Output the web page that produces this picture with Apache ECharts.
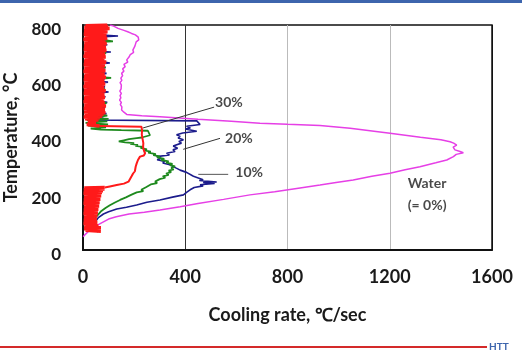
<!DOCTYPE html>
<html><head><meta charset="utf-8">
<script src="https://cdn.jsdelivr.net/npm/echarts@6/dist/echarts.min.js"></script>
<style>html,body{margin:0;padding:0;background:#fff}#c{width:522px;height:364px}</style>
</head><body><div id="c"></div>
<script>
// [cooling rate (°C/s), temperature (°C)]
const water0 = [[106,800],[120,796],[137,788],[160,781],[175,776],[190,770],[205,765],[216,757],[210,752],[218,747],[208,740],[212,733],[203,725],[207,718],[195,711],[198,703],[185,695],[180,686],[171,676],[175,668],[160,660],[165,652],[155,644],[160,636],[151,628],[155,620],[148,611],[152,603],[145,595],[150,587],[143,581],[149,573],[144,565],[150,557],[145,549],[148,541],[143,533],[150,525],[146,517],[152,509],[148,503],[151,498],[160,490],[171,482],[230,477],[301,474],[450,465],[580,458],[692,451],[800,447],[927,443],[1045,433],[1201,415],[1320,401],[1400,392],[1436,385],[1450,380],[1462,373],[1448,366],[1455,356],[1475,350],[1488,346],[1460,340],[1449,332],[1423,320],[1380,310],[1318,296],[1260,285],[1201,273],[1130,262],[1057,249],[990,240],[927,231],[836,219],[750,207],[653,196],[550,180],[450,165],[380,154],[301,142],[240,134],[180,128],[130,118],[100,110],[60,90],[20,65],[5,52],[1,47]];

const pct10 = [[60,800],[15,796],[90,790],[20,782],[80,775],[10,768],[137,761],[30,756],[85,748],[20,740],[95,730],[25,720],[80,712],[15,708],[109,704],[30,698],[85,688],[20,678],[105,665],[25,658],[88,648],[15,638],[92,628],[30,618],[84,608],[20,602],[98,597],[25,590],[86,580],[15,572],[100,562],[30,555],[88,545],[20,535],[95,525],[25,515],[86,505],[15,495],[92,485],[30,476],[80,468],[20,462],[445,459],[440,452],[458,446],[405,440],[420,434],[400,430],[445,422],[390,416],[366,410],[380,404],[372,398],[393,392],[375,386],[385,380],[353,370],[370,362],[352,356],[360,350],[327,344],[338,338],[288,332],[305,326],[290,321],[320,315],[312,309],[340,303],[335,297],[365,291],[380,284],[405,276],[398,270],[432,262],[425,256],[470,250],[455,247],[523,242],[470,240],[515,237],[458,232],[470,228],[435,222],[419,214],[405,205],[393,196],[350,188],[301,178],[250,170],[210,160],[170,152],[132,146],[100,136],[80,128],[60,115],[54,107],[40,95],[30,85],[20,78]];

const pct20 = [[70,800],[20,795],[95,785],[30,775],[85,765],[25,755],[117,742],[40,738],[80,725],[20,715],[90,700],[30,690],[78,678],[15,665],[88,650],[25,640],[82,628],[20,618],[110,612],[35,606],[80,595],[20,585],[86,572],[30,560],[78,548],[15,535],[92,522],[25,510],[84,498],[20,488],[95,478],[30,470],[100,466],[15,462],[95,457],[10,452],[98,447],[20,442],[90,436],[30,432],[70,428],[150,426],[254,424],[262,408],[230,400],[210,398],[180,394],[160,390],[140,386],[165,383],[200,380],[185,377],[215,374],[205,370],[235,367],[225,363],[250,358],[240,354],[265,350],[255,346],[285,341],[275,337],[300,333],[290,329],[318,324],[305,320],[335,315],[325,311],[350,306],[340,302],[360,297],[345,292],[355,287],[335,282],[345,277],[325,272],[335,267],[312,262],[322,257],[300,252],[305,247],[282,243],[290,238],[265,233],[272,228],[248,224],[255,219],[228,214],[236,209],[210,205],[215,200],[188,196],[195,191],[168,187],[172,182],[145,178],[150,173],[125,169],[128,164],[105,159],[110,154],[88,149],[92,144],[72,139],[78,133],[60,127],[64,121],[48,115],[52,108],[38,100],[42,92],[30,85],[35,78],[45,70],[60,65]];

// 30 % curve, in three consecutive pieces (noisy upper band, transition, noisy lower band)
const pct30Upper = [[95,800],[10,797],[98,794],[5,791],[104,788],[12,785],[86,782],[4,779],[96,776],[8,773],[84,770],[3,767],[92,764],[10,761],[80,758],[6,755],[95,752],[2,749],[88,746],[9,743],[82,740],[5,737],[93,734],[12,731],[79,728],[4,725],[90,722],[7,719],[85,716],[3,713],[92,710],[11,707],[78,704],[5,701],[87,698],[8,695],[81,692],[2,689],[89,686],[10,683],[78,680],[6,677],[84,674],[4,671],[91,668],[9,665],[80,662],[3,659],[86,656],[12,653],[77,650],[5,647],[83,644],[8,641],[88,638],[2,635],[79,632],[10,629],[85,626],[6,623],[77,620],[4,617],[90,614],[9,611],[81,608],[3,605],[84,602],[11,599],[76,596],[5,593],[87,590],[7,587],[80,584],[2,581],[83,578],[10,575],[77,572],[4,569],[89,566],[8,563],[79,560],[3,557],[84,554],[12,551],[76,548],[6,545],[86,542],[4,539],[81,536],[9,533],[78,530],[2,527],[85,524],[7,521],[79,518],[5,515],[90,512],[10,509],[82,506],[3,503],[86,500],[8,497],[77,494],[4,491],[88,488],[11,485],[80,482],[6,479],[74,476],[3,473],[66,470],[8,467],[60,463],[20,458],[50,452],[15,446],[65,441]];
const pct30Middle = [[65,441],[229,438],[231,425],[230,410],[233,395],[236,380],[235,365],[239,352],[243,344],[238,336],[223,332],[215,320],[210,308],[206,296],[203,280],[196,272],[190,262],[184,255],[178,243],[160,236],[132,231],[105,226],[85,222]];
const pct30Lower = [[85,222],[5,220],[84,217],[3,214],[78,211],[8,208],[74,205],[2,202],[66,199],[10,196],[71,193],[4,190],[62,187],[7,184],[68,181],[3,178],[60,175],[9,172],[65,169],[2,166],[57,163],[6,160],[63,157],[4,154],[55,151],[8,148],[60,145],[3,142],[52,139],[7,136],[58,133],[2,130],[50,127],[6,124],[56,121],[4,118],[48,115],[9,112],[54,109],[3,106],[47,103],[7,100],[56,97],[2,94],[50,91],[5,88],[60,85],[8,82],[70,79],[4,76],[68,73],[10,70],[70,67]];

const leader30 = [[235,434],[513,508]];
const leader20 = [[392,358],[536,397]];
const leader10 = [[451,269],[568,269]];

const noteTexts = ['30%','20%','10%','Water','(= 0%)'];
const noteRates = [571,610,650,1346,1346];
const noteTemps = [524,397,276,235,160];

const xTicks = [0,400,800,1200,1600];
const yTicks = [0,200,400,600,800];

const FONT = 'Lato';
const chart = echarts.init(document.getElementById('c'), null, {renderer:'canvas'});
const lineS = (name, data, color, w) => ({name, type:'line', data, showSymbol:false, symbol:'none', lineStyle:{color, width:w}, itemStyle:{color}, animation:false, silent:true});
const RED = '#ff1a1a';
chart.setOption({
  animation:false,
  grid:{left:83, top:25, width:409, height:225, containLabel:false, outerBoundsMode:'none', show:true, borderColor:'#111', borderWidth:1.5, backgroundColor:'transparent'},
  xAxis:{type:'value', min:xTicks[0], max:xTicks[xTicks.length-1], interval:400,
    name:'Cooling rate, ℃/sec', nameLocation:'middle', nameGap:56,
    nameTextStyle:{fontFamily:FONT, fontWeight:'bold', fontSize:18, color:'#1a1a1a'},
    axisLine:{show:true, lineStyle:{color:'#111', width:2}}, axisTick:{show:false},
    axisLabel:{fontFamily:FONT, fontWeight:'bold', fontSize:18, color:'#1a1a1a', margin:18, formatter:v=>String(v)},
    splitLine:{show:true, showMinLine:true, showMaxLine:true, lineStyle:{color:['#111','#333','#bbb','#bbb','#111'], width:1}}},
  yAxis:{type:'value', min:yTicks[0], max:yTicks[yTicks.length-1], interval:200,
    name:'Temperature, °C', nameLocation:'middle', nameGap:51, nameRotate:90,
    nameTextStyle:{fontFamily:FONT, fontWeight:'bold', fontSize:18, color:'#1a1a1a'},
    axisLine:{show:true, lineStyle:{color:'#111', width:2}}, axisTick:{show:false},
    axisLabel:{fontFamily:FONT, fontWeight:'bold', fontSize:17, color:'#1a1a1a', margin:22, verticalAlign:'top', lineHeight:9, formatter:v=>String(v)},
    splitLine:{show:false}},
  series:[
    lineS('Water (= 0%)', water0, '#e63fe6', 1.5),
    lineS('10%', pct10, '#1c1c8c', 1.6),
    lineS('20%', pct20, '#1e8a1e', 1.8),
    lineS('30%', pct30Upper, RED, 3.6),
    lineS('30%', pct30Middle, RED, 2),
    lineS('30%', pct30Lower, RED, 3.6),
    lineS('l30', leader30, '#333', 1),
    lineS('l20', leader20, '#333', 1),
    lineS('l10', leader10, '#555', 1),
    {type:'scatter', symbolSize:0, animation:false, silent:true,
     data: noteTexts.map((t,i)=>({value:[noteRates[i], noteTemps[i]], name:t})),
     label:{show:true, position:'inside', formatter:p=>p.name, fontFamily:FONT, fontWeight:'bold', fontSize:14, color:'#1a1a1a'}}
  ],
  graphic:[
    {type:'rect', left:0, top:0, shape:{width:522, height:3}, style:{fill:'#3d65ad'}},
    {type:'line', shape:{x1:0, y1:347, x2:487, y2:347}, style:{stroke:'#d42a2a', lineWidth:2}},
    {type:'text', left:489, top:342, style:{text:'HTT', fill:'#3d65ad', font:'bold 10px Lato'}}
  ]
});
</script></body></html>
